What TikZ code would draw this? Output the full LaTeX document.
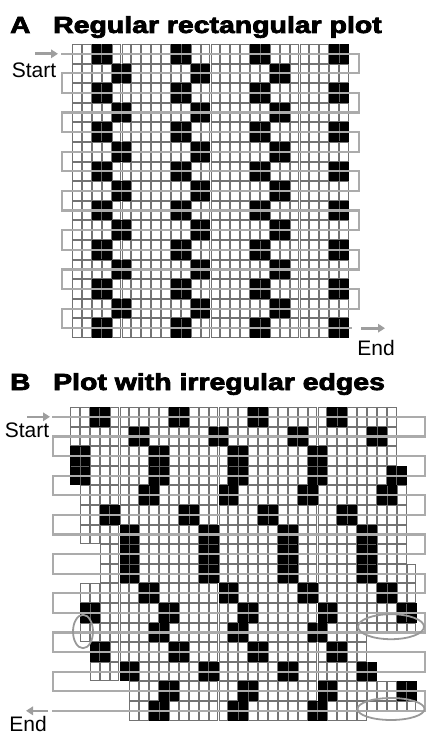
\documentclass[tikz,border=0pt]{standalone}
\usepackage{fontspec}
\usepackage{graphicx}
\setmainfont{Liberation Sans}
\newfontfamily\titlefont{Liberation Sans}[BoldFeatures={FakeBold=3}]
\usetikzlibrary{arrows.meta}
\tikzset{
 cellline/.style={draw=black!55, line width=0.95pt},
 blockfill/.style={fill=black},
 blockinner/.style={draw=black!62, line width=0.5pt},
 pathline/.style={draw=black!33, line width=2.2pt, line cap=rect},
 ovalmark/.style={draw=black!40, line width=1.8pt},
 flowarrow/.style={draw=black!38, line width=2.6pt, -{Triangle[length=7pt,width=8.5pt]}},
 sidetext/.style={font=\fontsize{21}{21}\selectfont, inner sep=0pt, anchor=base},
 titletext/.style={font=\titlefont\bfseries\fontsize{23.3}{23.3}\selectfont, inner sep=0pt, anchor=base west}
}
\def\Ax{72}\def\Ay{44}\def\Aw{9.89}\def\Ah{9.8}
\def\Bx{70}\def\By{407}\def\Bw{9.9}\def\Bh{9.8}
\newcommand\blkA[3]{\pgfmathtruncatemacro\nm{#2-1}\foreach \c in {#3} {%
  \fill[blockfill] ({\Ax+\c*\Aw},{\Ay+#1*\Ah}) rectangle ++({2*\Aw},{#2*\Ah});
  \draw[blockinner] ({\Ax+(\c+1)*\Aw},{\Ay+#1*\Ah+0.5}) -- ++(0,{#2*\Ah-1});
  \foreach \j in {1,...,\nm} {\draw[blockinner] ({\Ax+\c*\Aw+0.5},{\Ay+(#1+\j)*\Ah}) -- ++({2*\Aw-1},0);}
  }}
\newcommand\blkB[3]{\pgfmathtruncatemacro\nm{#2-1}\foreach \c in {#3} {%
  \fill[blockfill] ({\Bx+\c*\Bw},{\By+#1*\Bh}) rectangle ++({2*\Bw},{#2*\Bh});
  \draw[blockinner] ({\Bx+(\c+1)*\Bw},{\By+#1*\Bh+0.5}) -- ++(0,{#2*\Bh-1});
  \foreach \j in {1,...,\nm} {\draw[blockinner] ({\Bx+\c*\Bw+0.5},{\By+(#1+\j)*\Bh}) -- ++({2*\Bw-1},0);}
  }}
\begin{document}
\begin{tikzpicture}[x=1pt,y=-1pt]
\useasboundingbox (0,0) rectangle (428,735);
% ---------- titles
\node[titletext] (letterA) at (10,33) {\scalebox{1.2}[1]{A}};
\node[titletext] (titleA) at (53,33) {\scalebox{1.22}[1]{Regular rectangular plot}};
\node[titletext] (letterB) at (10,390) {\scalebox{1.2}[1]{B}};
\node[titletext] (titleB) at (53,390) {\scalebox{1.22}[1]{Plot with irregular edges}};
% ---------- panel A grid
\foreach \r in {0,...,29} \foreach \c in {0,...,27}
  \draw[cellline] ({\Ax+\c*\Aw+0.55},{\Ay+\r*\Ah+0.55}) rectangle ++({\Aw-1.1},{\Ah-1.1});
% ---------- panel A blocks
\foreach \k in {0,4,...,28} {\blkA{\k}{2}{2,10,18,26}}
\foreach \k in {2,6,...,26} {\blkA{\k}{2}{4,12,20}}
% ---------- panel A path
\foreach \k in {0,...,13} \draw[pathline] (62,{\Ay+(2*\k+1)*\Ah}) -- (359,{\Ay+(2*\k+1)*\Ah});
\draw[pathline] (62,{\Ay+29*\Ah}) -- (351,{\Ay+29*\Ah});
\foreach \k in {0,2,...,12} \draw[pathline] (359,{\Ay+(2*\k+1)*\Ah}) -- (359,{\Ay+(2*\k+3)*\Ah});
\foreach \k in {1,3,...,13} \draw[pathline] (62,{\Ay+(2*\k+1)*\Ah}) -- (62,{\Ay+(2*\k+3)*\Ah});
\coordinate (sAa) at (35,{\Ay+\Ah});
\coordinate (sAb) at (58,{\Ay+\Ah});
\draw[flowarrow] (sAa) -- (sAb);
\coordinate (eAa) at (361,{\Ay+29*\Ah});
\coordinate (eAb) at (385,{\Ay+29*\Ah});
\draw[flowarrow] (eAa) -- (eAb);
\node[sidetext] (startA) at (34,78) {Start};
\node[sidetext] (endA) at (376,355) {End};
% ---------- panel B grid
\foreach \r/\L/\R in {0/0/32,1/0/32,2/0/32,3/0/32,4/0/32,5/0/32,6/0/33,7/0/33,
  8/1/33,9/1/33,10/1/33,11/1/33,12/1/33,13/1/33,14/3/33,15/3/33,16/3/34,17/3/34,
  18/1/34,19/1/34,20/1/34,21/1/34,22/1/34,23/1/29,24/2/29,25/2/29,26/2/30,27/2/30,
  28/6/34,29/6/34,30/6/34,31/6/29}
  \foreach \c in {\L,...,\R}
    \draw[cellline] ({\Bx+\c*\Bw+0.55},{\By+\r*\Bh+0.55}) rectangle ++({\Bw-1.1},{\Bh-1.1});
% ---------- panel B blocks
\blkB{0}{2}{2,10,18,26}
\blkB{2}{2}{6,14,22,30}
\blkB{4}{4}{0,8,16,24}
\blkB{6}{2}{32}
\blkB{8}{2}{7,15,23,31}
\blkB{10}{2}{3,11,19,27}
\blkB{12}{6}{5,13,21,29}
\blkB{18}{2}{7,15,23,31}
\blkB{20}{2}{1,9,17,25,33}
\blkB{22}{2}{8,16,24}
\blkB{24}{2}{2,10,18,26}
\blkB{26}{2}{5,13,21,29}
\blkB{28}{2}{9,17,25,33}
\blkB{30}{2}{8,16,24}
% ---------- panel B path
\foreach \k in {0,...,15} \draw[pathline] (53,{\By+(2*\k+1)*\Bh}) -- (425,{\By+(2*\k+1)*\Bh});
\foreach \k in {0,2,...,14} \draw[pathline] (425,{\By+(2*\k+1)*\Bh}) -- (425,{\By+(2*\k+3)*\Bh});
\foreach \k in {1,3,...,13} \draw[pathline] (53,{\By+(2*\k+1)*\Bh}) -- (53,{\By+(2*\k+3)*\Bh});
\coordinate (sBa) at (27,{\By+\Bh});
\coordinate (sBb) at (50,{\By+\Bh});
\draw[flowarrow] (sBa) -- (sBb);
\coordinate (eBa) at (48,{\By+31*\Bh});
\coordinate (eBb) at (26,{\By+31*\Bh});
\draw[flowarrow] (eBa) -- (eBb);
\node[sidetext] (startB) at (27,437) {Start};
\node[sidetext] (endB) at (28,731.5) {End};
% ---------- ovals
\draw[ovalmark] (83,631.5) ellipse [x radius=10pt, y radius=16.7pt];
\draw[ovalmark] (391,626.7) ellipse [x radius=33pt, y radius=12.5pt];
\draw[ovalmark] (391,709) ellipse [x radius=33.5pt, y radius=11pt];
\end{tikzpicture}
\end{document}
